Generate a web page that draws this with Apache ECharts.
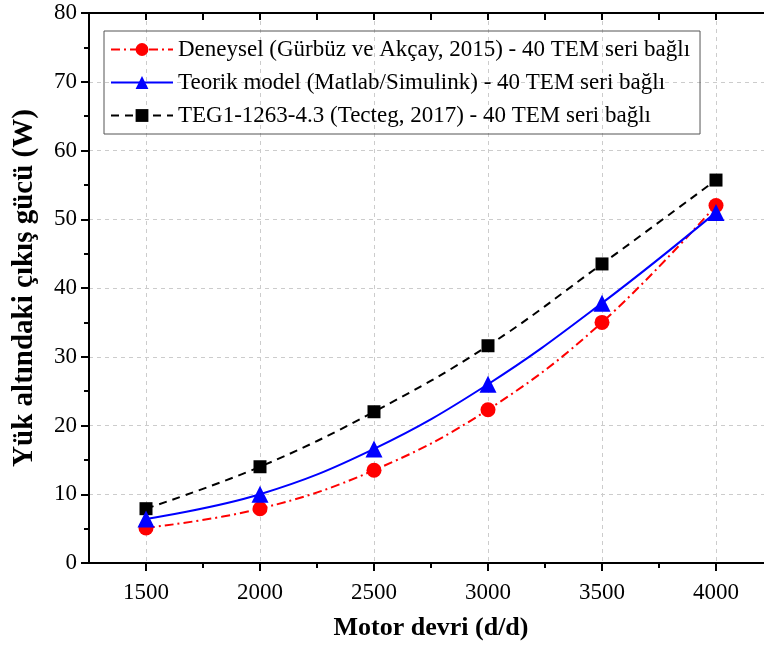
<!DOCTYPE html>
<html>
<head>
<meta charset="utf-8">
<script src="https://cdn.jsdelivr.net/npm/echarts@6/dist/echarts.min.js"></script>
<style>
  html, body { margin: 0; padding: 0; background: #fff; }
  #chart { width: 764px; height: 645px; }
</style>
</head>
<body>
<div id="chart"></div>
<script>
// motor speed (d/d)
const rpm = [1500, 2000, 2500, 3000, 3500, 4000]
const majorTicks = [1500, 2000, 2500, 3000, 3500, 4000]
const minorTicks = [1750, 2250, 2750, 3250, 3750]
const topTicks = [1500, 1750, 2000, 2250, 2500, 2750, 3000, 3250, 3500, 3750, 4000]

// power under load (W)
const deneysel = [5.1, 7.9, 13.5, 22.3, 35.0, 52.0]
const teorik = [6.4, 10.0, 16.6, 26.0, 37.8, 51.0]
const tecteg = [7.9, 14.0, 22.0, 31.6, 43.5, 55.7]

const names = [
  'Deneysel (Gürbüz ve Akçay, 2015) - 40 TEM seri bağlı',
  'Teorik model (Matlab/Simulink) - 40 TEM seri bağlı',
  'TEG1-1263-4.3 (Tecteg, 2017) - 40 TEM seri bağlı'
]

const font = 'Liberation Serif, Times New Roman, serif'
const pairs = arr => rpm.map((x, i) => [x, arr[i]])

const baseX = {
  type: 'value', min: 1250, max: 4250, gridIndex: 0
}

const chart = echarts.init(document.getElementById('chart'))
chart.setOption({
  backgroundColor: '#fff',
  animation: false,
  grid: { left: 89, right: -9, top: 13, bottom: 82, containLabel: false, outerBoundsMode: 'none' },
  legend: {
    orient: 'vertical',
    left: 104, top: 31,
    data: names,
    itemWidth: 62, itemHeight: 16, itemGap: 10,
    padding: [7, 10, 7, 6],
    borderColor: '#555', borderWidth: 1,
    textStyle: { fontFamily: font, fontSize: 23, color: '#000' }
  },
  xAxis: [
    Object.assign({}, baseX, {
      position: 'bottom',
      name: 'Motor devri (d/d)',
      nameLocation: 'middle',
      nameGap: 52,
      nameTextStyle: { fontFamily: font, fontSize: 26, fontWeight: 'bold', color: '#000' },
      axisLine: { show: true, lineStyle: { color: '#000', width: 2 } },
      axisTick: { show: true, length: 8, customValues: majorTicks, lineStyle: { color: '#000', width: 2 } },
      axisLabel: { customValues: majorTicks, formatter: v => String(v), fontFamily: font, fontSize: 23, color: '#000', margin: 18 },
      splitLine: { show: true, lineStyle: { color: '#ccc', type: [4, 4], width: 1 } }
    }),
    Object.assign({}, baseX, {
      position: 'bottom',
      axisLine: { show: false },
      axisTick: { show: true, length: 5, customValues: minorTicks, lineStyle: { color: '#000', width: 2 } },
      axisLabel: { show: false },
      splitLine: { show: false }
    }),
    Object.assign({}, baseX, {
      position: 'top',
      axisLine: { show: true, lineStyle: { color: '#000', width: 2 } },
      axisTick: { show: true, inside: true, length: 7, customValues: topTicks, lineStyle: { color: '#000', width: 2 } },
      axisLabel: { show: false },
      splitLine: { show: false }
    })
  ],
  yAxis: {
    type: 'value', min: 0, max: 80, interval: 10,
    name: 'Yük altındaki çıkış gücü (W)',
    nameLocation: 'middle',
    nameGap: 50,
    nameTextStyle: { fontFamily: font, fontSize: 29, fontWeight: 'bold', color: '#000' },
    axisLine: { show: true, lineStyle: { color: '#000', width: 2 } },
    axisTick: { show: true, length: 8, lineStyle: { color: '#000', width: 2 } },
    minorTick: { show: true, splitNumber: 2, length: 5, lineStyle: { color: '#000', width: 2 } },
    axisLabel: { fontFamily: font, fontSize: 23, color: '#000', margin: 12 },
    splitLine: { show: true, lineStyle: { color: '#ccc', type: [4, 4], width: 1 } }
  },
  series: [
    {
      name: names[0], type: 'line', data: pairs(deneysel), smooth: 0.4,
      symbol: 'circle', symbolSize: 15,
      itemStyle: { color: '#ff0000' },
      lineStyle: { color: '#ff0000', width: 2, type: [9, 4, 2, 4] },
      z: 3
    },
    {
      name: names[1], type: 'line', data: pairs(teorik), smooth: 0.4,
      symbol: 'triangle', symbolSize: 17,
      itemStyle: { color: '#0000ff' },
      lineStyle: { color: '#0000ff', width: 2 },
      z: 4
    },
    {
      name: names[2], type: 'line', data: pairs(tecteg), smooth: 0.4,
      symbol: 'rect', symbolSize: 13,
      itemStyle: { color: '#000' },
      lineStyle: { color: '#000', width: 2, type: [8, 6] },
      z: 2
    }
  ]
})
</script>
</body>
</html>
